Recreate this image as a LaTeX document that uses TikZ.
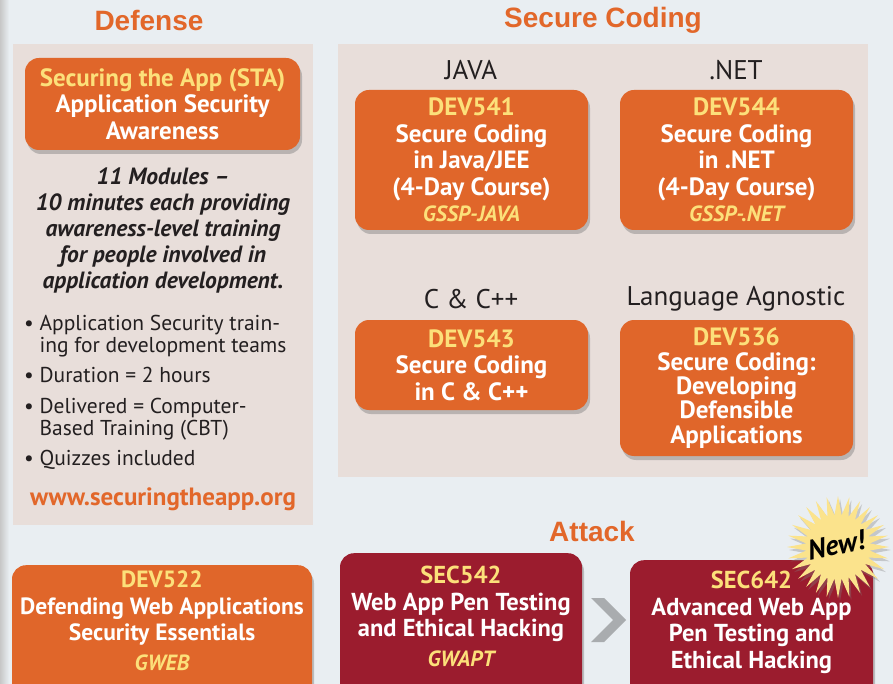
\documentclass[tikz,border=0pt]{standalone}
\usepackage{fontspec}
\setmainfont{PT Sans}
\newfontfamily\titlefont{Liberation Sans}
\usetikzlibrary{shadows,shapes.geometric}
\definecolor{bgc}{HTML}{E9EEF2}
\definecolor{panelc}{HTML}{E8DEDA}
\definecolor{orangec}{HTML}{E0662A}
\definecolor{redc}{HTML}{9B1C2E}
\definecolor{yellowc}{HTML}{FCE07A}
\definecolor{titlec}{HTML}{E2672A}
\definecolor{textc}{HTML}{231F20}
\definecolor{burstc}{HTML}{FBE38C}
\definecolor{chevc}{HTML}{A9ACAF}
\begin{document}
\begin{tikzpicture}[x=1pt,y=-1pt,
  coursebox/.style={fill=orangec, rounded corners=14pt, align=center, text=white,
    font=\bfseries\fontsize{25}{26.5}\selectfont, inner sep=0pt,
    drop shadow={opacity=0.45, shadow xshift=2pt, shadow yshift=-4pt}},
  attackbox/.style={coursebox, fill=redc},
  bottomtext/.style={font=\bfseries\fontsize{24.5}{26.5}\selectfont},
  sectitle/.style={font=\titlefont\bfseries\fontsize{28}{28}\selectfont, text=titlec},
  langlabel/.style={font=\fontsize{27}{27}\selectfont, text=textc},
  paneltext/.style={align=center, text=textc}]
\useasboundingbox (0,0) rectangle (893,684);
\fill[bgc] (0,0) rectangle (893,684);
\fill[left color=black!22, right color=bgc] (0,0) rectangle (9,684);
% panels
\fill[panelc] (13,44) rectangle (313,525);
\fill[panelc] (338,44) rectangle (868,477);
% titles
\node[sectitle] (tdef) at (149,20) {Defense};
\node[sectitle] (tsec) at (603,20) {Secure Coding};
\node[sectitle] (tatt) at (592,531) {Attack};
% defense
\node[coursebox, minimum width=275pt, minimum height=92pt] (sta) at (162.5,104)
  {\textcolor{yellowc}{Securing the App (STA)}\\Application Security\\Awareness};
\node[paneltext, font=\bfseries\itshape\fontsize{23.5}{26}\selectfont] (mods) at (163,230)
  {11 Modules --\\10 minutes each providing\\awareness-level training\\for people involved in\\application development.};
\node[text=textc, align=left, anchor=north west, inner sep=0pt, font=\fontsize{21.5}{22}\selectfont] (bul) at (24,315)
  {\textbullet\ Application Security train-\\\hphantom{\textbullet\ }ing for development teams\\[8pt]
   \textbullet\ Duration = 2 hours\\[9pt]
   \textbullet\ Delivered = Computer-\\\hphantom{\textbullet\ }Based Training (CBT)\\[8pt]
   \textbullet\ Quizzes included};
\node[text=titlec, font=\bfseries\fontsize{25}{25}\selectfont] (url) at (163,499) {www.securingtheapp.org};
% secure coding
\node[langlabel] (ljava) at (471,70) {JAVA};
\node[langlabel] (lnet) at (736,70) {.NET};
\node[langlabel] (lc) at (471,299) {C \& C++};
\node[langlabel] (lag) at (736,299) {Language Agnostic};
\node[coursebox, minimum width=233pt, minimum height=140pt] (dev541) at (471.5,160)
  {\textcolor{yellowc}{DEV541}\\Secure Coding\\in Java/JEE\\(4-Day Course)\\\textcolor{yellowc}{\itshape\fontsize{22}{26.5}\selectfont GSSP-JAVA}};
\node[coursebox, minimum width=233pt, minimum height=140pt] (dev544) at (736.5,160)
  {\textcolor{yellowc}{DEV544}\\Secure Coding\\in .NET\\(4-Day Course)\\\textcolor{yellowc}{\itshape\fontsize{22}{26.5}\selectfont GSSP-.NET}};
\node[coursebox, minimum width=233pt, minimum height=90pt] (dev543) at (471.5,365)
  {\textcolor{yellowc}{DEV543}\\Secure Coding\\in C \& C++};
\node[coursebox, minimum width=233pt, minimum height=136pt, font=\bfseries\fontsize{25}{24.3}\selectfont] (dev536) at (736.5,388)
  {\textcolor{yellowc}{DEV536}\\Secure Coding:\\Developing\\Defensible\\Applications};
% attack row
\node[coursebox, font=\bfseries\fontsize{23.5}{26.5}\selectfont, minimum width=300pt, anchor=north] (dev522) at (162,565)
  {\parbox[c][140pt][t]{300pt}{\centering\vspace{6pt}\textcolor{yellowc}{DEV522}\\Defending Web Applications\\Security Essentials\\[3pt]\textcolor{yellowc}{\itshape\fontsize{22}{26.5}\selectfont GWEB}}};
\node[attackbox, bottomtext, minimum width=242pt, anchor=north] (sec542) at (461,553)
  {\parbox[c][150pt][t]{242pt}{\centering\vspace{13pt}\textcolor{yellowc}{SEC542}\\Web App Pen Testing\\and Ethical Hacking\\[3pt]\textcolor{yellowc}{\itshape\fontsize{22}{26.5}\selectfont GWAPT}}};
\node[attackbox, bottomtext, minimum width=243pt, anchor=north] (sec642) at (751.5,560)
  {\parbox[c][140pt][t]{243pt}{\centering\vspace{11pt}\textcolor{yellowc}{SEC642}\\Advanced Web App\\Pen Testing and\\Ethical Hacking}};
% chevron
\fill[chevc] (591,598) -- (604,598) -- (626,620) -- (604,642) -- (591,642) -- (613,620) -- cycle;
% new burst
\node[star, star points=28, star point ratio=1.6, minimum size=102pt, inner sep=0pt, fill=burstc,
  drop shadow={opacity=0.35, shadow xshift=2pt, shadow yshift=-3pt}] (burst) at (838,547) {};
\node[rotate=12, inner sep=0pt, font=\bfseries\itshape\fontsize{28}{28}\selectfont, text=black] (new) at (836,545) {New!};
\end{tikzpicture}
\end{document}
